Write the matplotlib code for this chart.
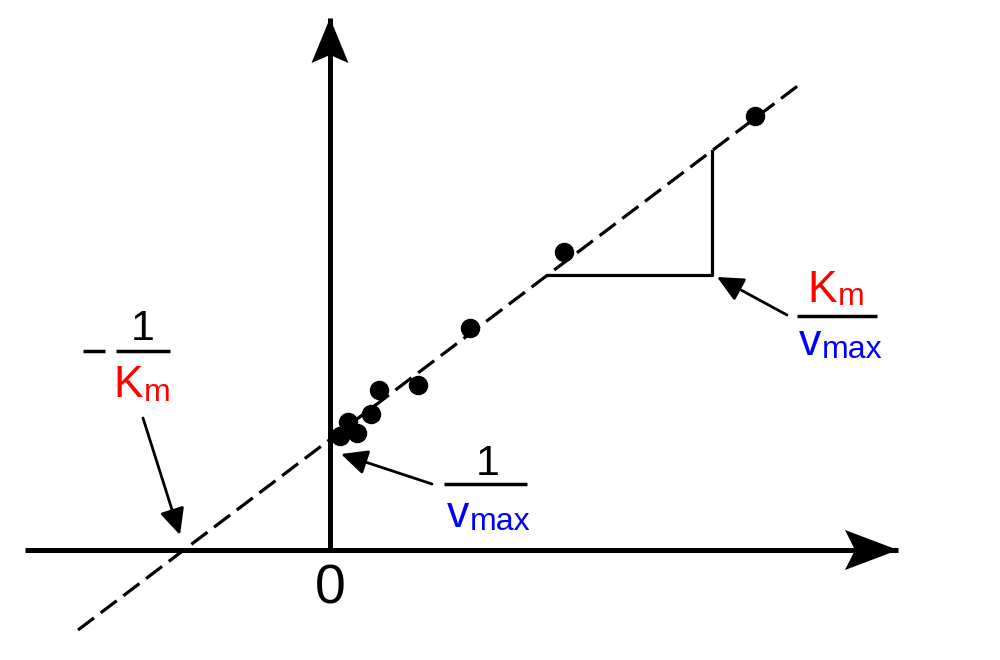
import numpy as np
import matplotlib
matplotlib.use("Agg")
import matplotlib.pyplot as plt

plt.rcParams['font.family'] = ['Liberation Sans', 'DejaVu Sans']

# measured points (1/[S], 1/v)
inv_s = [0.10, 0.18, 0.27, 0.41, 0.49, 0.88, 1.40, 2.34, 4.25]
inv_v = [1.14, 1.28, 1.17, 1.36, 1.60, 1.65, 2.22, 2.98, 4.34]

# fitted line
intercept = 1.105   # 1/vmax
slope = 0.756       # Km/vmax
line_x = [-2.52, 4.73]
tri_x = [2.18, 3.82]

fig = plt.figure(figsize=(10, 6.6), dpi=100)
ax = fig.add_axes([0, 0, 1, 1])
ax.set_xlim(-3.30, 6.70)
ax.set_ylim(-1.10, 5.50)
ax.axis('off')


def axis_arrow(x0, y0, x1, y1, length=0.5, half=0.19, notch=0.09):
    ax.plot([x0, x1], [y0, y1], color='black', lw=3.6, solid_capstyle='butt', zorder=3)
    d = np.array([x1 - x0, y1 - y0], dtype=float)
    d /= np.hypot(*d)
    n = np.array([-d[1], d[0]])
    tip = np.array([x1, y1])
    base = tip - d * length
    pts = [tip, base + n * half, base + d * notch, base - n * half]
    ax.fill([p[0] for p in pts], [p[1] for p in pts], color='black', lw=0, zorder=4)


# axes
axis_arrow(-3.05, 0, 5.68, 0, length=0.53, half=0.2, notch=0.1)
axis_arrow(0, 0.0, 0, 5.32, length=0.45, half=0.185, notch=0.08)

# dashed fit line
lx = np.array(line_x)
ax.plot(lx, intercept + slope * lx, color='black', lw=2.3, dashes=(6.3, 2.6), zorder=2)

# slope triangle
ax.plot([tri_x[0], tri_x[1], tri_x[1]],
        [intercept + slope * tri_x[0], intercept + slope * tri_x[0], intercept + slope * tri_x[1]],
        color='black', lw=2.3, zorder=2)

# data points
ax.plot(inv_s, inv_v, 'o', color='black', ms=13, zorder=5)

# origin label
ax.text(0, -0.53, '0', fontsize=40, ha='center', va='baseline')

red, blue = '#ff0000', '#0000ff'
big, small = 32, 23
arrow_kw = dict(arrowstyle='-|>,head_length=0.8,head_width=0.38', color='black',
                lw=2.0, shrinkA=0, shrinkB=0, mutation_scale=20)

# -1/Km
ax.plot([-2.47, -2.25], [1.99, 1.99], color='black', lw=2.5, solid_capstyle='butt')
ax.plot([-2.14, -1.60], [1.99, 1.99], color='black', lw=2.5, solid_capstyle='butt')
ax.text(-1.87, 2.10, '1', fontsize=31, ha='center', va='baseline')
ax.text(-1.87, 1.53, 'K', fontsize=big, color=red, ha='right', va='baseline')
ax.text(-1.86, 1.49, 'm', fontsize=small, color=red, ha='left', va='baseline')
ax.annotate('', xy=(-1.5, 0.15), xytext=(-1.87, 1.32), arrowprops=arrow_kw)

# 1/vmax
ax.plot([1.14, 1.97], [0.66, 0.66], color='black', lw=2.5, solid_capstyle='butt')
ax.text(1.58, 0.75, '1', fontsize=31, ha='center', va='baseline')
ax.text(1.39, 0.23, 'v', fontsize=big, color=blue, ha='right', va='baseline')
ax.text(1.40, 0.20, 'max', fontsize=small, color=blue, ha='left', va='baseline')
ax.annotate('', xy=(0.11, 0.96), xytext=(1.02, 0.66), arrowprops=arrow_kw)

# Km/vmax
ax.plot([4.67, 5.47], [2.34, 2.34], color='black', lw=2.5, solid_capstyle='butt')
ax.text(5.07, 2.48, 'K', fontsize=big, color=red, ha='right', va='baseline')
ax.text(5.08, 2.45, 'm', fontsize=small, color=red, ha='left', va='baseline')
ax.text(4.91, 1.95, 'v', fontsize=big, color=blue, ha='right', va='baseline')
ax.text(4.92, 1.92, 'max', fontsize=small, color=blue, ha='left', va='baseline')
ax.annotate('', xy=(3.87, 2.73), xytext=(4.57, 2.35), arrowprops=arrow_kw)

fig.savefig('out.png', dpi=100)
